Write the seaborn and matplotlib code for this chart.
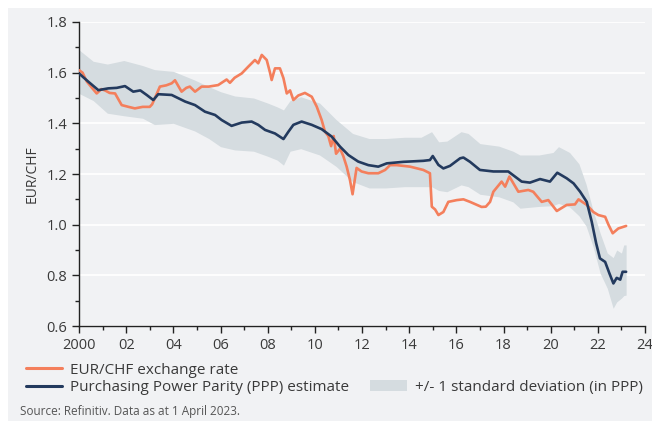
import matplotlib
matplotlib.use('Agg')
import matplotlib.pyplot as plt
from matplotlib.patches import Rectangle, Patch
from matplotlib.lines import Line2D
from matplotlib.ticker import MultipleLocator, FuncFormatter
import pandas as pd
import seaborn as sns

# EUR/CHF exchange rate (years since 2000)
fx_years = [0.0, 0.15, 0.33, 0.55, 0.75, 0.95, 1.1, 1.3, 1.53, 1.7, 1.81, 2.1, 2.37, 2.7, 3.0,
            3.1, 3.22, 3.43, 3.7, 3.93, 4.07, 4.35, 4.55, 4.7, 4.92, 5.2, 5.5, 5.9, 6.26, 6.4,
            6.6, 6.9, 7.18, 7.46, 7.6, 7.75, 7.96, 8.1, 8.17, 8.31, 8.52, 8.67, 8.81, 8.95, 9.09,
            9.3, 9.58, 9.87, 10.08, 10.29, 10.43, 10.57, 10.69, 10.8, 10.9, 11.07, 11.21, 11.35,
            11.49, 11.6, 11.77, 11.98, 12.27, 12.69, 12.98, 13.19, 13.47, 14.04, 14.6, 14.88,
            14.96, 15.1, 15.24, 15.45, 15.66, 16.02, 16.3, 16.58, 17.07, 17.25, 17.43, 17.57,
            17.92, 18.07, 18.25, 18.42, 18.63, 19.05, 19.26, 19.62, 19.9, 20.26, 20.68, 21.03,
            21.18, 21.53, 21.81, 22.02, 22.31, 22.45, 22.63, 22.87, 23.2]
fx_values = [1.61, 1.60, 1.565, 1.54, 1.518, 1.535, 1.53, 1.52, 1.518, 1.49, 1.472, 1.465, 1.459,
             1.465, 1.465, 1.475, 1.50, 1.545, 1.55, 1.558, 1.57, 1.525, 1.54, 1.545, 1.525, 1.545,
             1.545, 1.551, 1.573, 1.56, 1.58, 1.597, 1.624, 1.65, 1.637, 1.67, 1.65, 1.60, 1.571,
             1.617, 1.617, 1.578, 1.518, 1.53, 1.492, 1.51, 1.52, 1.505, 1.466, 1.413, 1.367, 1.35,
             1.31, 1.35, 1.28, 1.30, 1.27, 1.229, 1.176, 1.12, 1.224, 1.21, 1.203, 1.203, 1.216,
             1.235, 1.235, 1.229, 1.216, 1.203, 1.071, 1.06, 1.038, 1.05, 1.09, 1.097, 1.10, 1.09,
             1.07, 1.071, 1.09, 1.13, 1.17, 1.15, 1.19, 1.163, 1.13, 1.137, 1.13, 1.09, 1.097,
             1.054, 1.078, 1.08, 1.10, 1.078, 1.05, 1.038, 1.031, 1.0, 0.966, 0.985, 0.995]

# PPP estimate
ppp_years = [0.0, 0.4, 0.82, 1.24, 1.6, 1.95, 2.3, 2.6, 2.87, 3.15, 3.36, 3.93, 4.5, 4.92, 5.34,
             5.77, 6.05, 6.47, 6.9, 7.32, 7.6, 7.89, 8.31, 8.67, 8.88, 9.09, 9.44, 9.87, 10.29,
             10.71, 11.07, 11.42, 11.84, 12.27, 12.69, 13.05, 13.75, 14.6, 14.88, 15.0, 15.24,
             15.45, 15.73, 16.16, 16.3, 16.58, 17.0, 17.57, 18.2, 18.77, 19.12, 19.55, 19.97,
             20.28, 20.68, 20.97, 21.25, 21.53, 21.74, 21.93, 22.09, 22.31, 22.49, 22.66, 22.8,
             22.95, 23.05, 23.2]
ppp_values = [1.597, 1.564, 1.531, 1.538, 1.54, 1.547, 1.525, 1.53, 1.512, 1.492, 1.515, 1.512,
              1.486, 1.472, 1.446, 1.433, 1.413, 1.39, 1.403, 1.407, 1.394, 1.374, 1.36, 1.338,
              1.367, 1.394, 1.407, 1.394, 1.377, 1.348, 1.308, 1.275, 1.249, 1.235, 1.229, 1.242,
              1.248, 1.252, 1.255, 1.271, 1.236, 1.222, 1.232, 1.262, 1.265, 1.248, 1.216, 1.21,
              1.21, 1.17, 1.166, 1.18, 1.17, 1.205, 1.183, 1.163, 1.13, 1.09, 1.012, 0.926, 0.867,
              0.853, 0.808, 0.768, 0.79, 0.783, 0.814, 0.814]

# +/- 1 standard deviation band
band_years = [0.0, 0.6, 1.2, 1.9, 2.7, 3.2, 4.0, 4.9, 5.5, 6.0, 6.6, 7.4, 8.0, 8.4, 8.67, 8.95,
              9.4, 10.2, 10.9, 11.6, 12.3, 13.0, 13.8, 14.5, 14.95, 15.25, 15.6, 16.2, 16.5, 17.0,
              17.8, 18.4, 18.7, 19.5, 20.1, 20.33, 20.8, 21.2, 21.5, 21.8, 22.1, 22.4, 22.65,
              22.8, 23.0, 23.1, 23.2]
band_upper = [1.69, 1.645, 1.634, 1.648, 1.628, 1.612, 1.605, 1.571, 1.545, 1.525, 1.508, 1.50,
              1.48, 1.465, 1.453, 1.49, 1.505, 1.48, 1.415, 1.36, 1.34, 1.34, 1.345, 1.345, 1.367,
              1.327, 1.33, 1.367, 1.36, 1.32, 1.31, 1.29, 1.275, 1.275, 1.285, 1.308, 1.285, 1.24,
              1.16, 1.055, 0.966, 0.888, 0.87, 0.90, 0.888, 0.92, 0.92]
band_lower = [1.518, 1.49, 1.44, 1.43, 1.42, 1.395, 1.40, 1.37, 1.34, 1.308, 1.295, 1.29, 1.27,
              1.255, 1.235, 1.29, 1.30, 1.275, 1.23, 1.17, 1.145, 1.145, 1.15, 1.15, 1.15, 1.135,
              1.13, 1.157, 1.15, 1.12, 1.11, 1.09, 1.065, 1.072, 1.075, 1.084, 1.07, 1.035, 0.995,
              0.913, 0.808, 0.749, 0.67, 0.695, 0.71, 0.72, 0.722]

x_ticks = [0, 2, 4, 6, 8, 10, 12, 14, 16, 18, 20, 22, 24]
x_labels = ['2000', '02', '04', '06', '08', '10', '12', '14', '16', '18', '20', '22', '24']

orange = '#f47f5c'
navy = '#233a5e'
band_color = '#d5dce0'
bg = '#f1f2f4'
text_color = '#3a3a3a'

sns.set_style('white')
plt.rcParams['font.family'] = ['Open Sans', 'DejaVu Sans']

fx = pd.DataFrame({'year': fx_years, 'rate': fx_values})
ppp = pd.DataFrame({'year': ppp_years, 'rate': ppp_values})

fig = plt.figure(figsize=(6.52, 4.21), dpi=100)
fig.patch.set_facecolor('white')
fig.patches.append(Rectangle((8 / 652, 0), 1, 1 - 8 / 421, transform=fig.transFigure,
                             facecolor=bg, edgecolor='none', zorder=-10))
ax = fig.add_axes([79 / 652, 1 - 326 / 421, (645 - 79) / 652, (326 - 22) / 421])
ax.set_facecolor(bg)

ax.fill_between(band_years, band_lower, band_upper, color=band_color, linewidth=0, zorder=1)
sns.lineplot(data=fx, x='year', y='rate', color=orange, linewidth=1.9, ax=ax, zorder=3)
sns.lineplot(data=ppp, x='year', y='rate', color=navy, linewidth=1.9, ax=ax, zorder=4)

ax.set_xlim(0, 24)
ax.set_ylim(0.6, 1.8)
ax.set_xticks(x_ticks)
ax.set_xticklabels(x_labels)
ax.xaxis.set_minor_locator(MultipleLocator(1))
ax.yaxis.set_major_locator(MultipleLocator(0.2))
ax.yaxis.set_minor_locator(MultipleLocator(0.1))
ax.yaxis.set_major_formatter(FuncFormatter(lambda v, p: f'{v:.1f}'))
ax.grid(axis='y', color='white', linewidth=1.3, zorder=0)
ax.set_axisbelow(True)
for s in ['top', 'right']:
    ax.spines[s].set_visible(False)
for s in ['left', 'bottom']:
    ax.spines[s].set_color('#222222')
    ax.spines[s].set_linewidth(1.0)
ax.tick_params(which='both', direction='out', colors='#222222', labelcolor=text_color,
               labelsize=10.5, bottom=True, left=True)
ax.tick_params(which='major', length=5, width=1)
ax.tick_params(which='minor', length=3, width=1)
ax.set_xlabel('')
ax.set_ylabel('EUR/CHF', fontsize=10, color=text_color, labelpad=5)

handles = [Line2D([], [], color=orange, linewidth=2.2),
           Line2D([], [], color=navy, linewidth=2.2),
           Line2D([], [], alpha=0),
           Patch(facecolor=band_color, edgecolor='none')]
labels = ['EUR/CHF exchange rate', 'Purchasing Power Parity (PPP) estimate', '',
          '+/- 1 standard deviation (in PPP)']
fig.legend(handles, labels, loc='upper left', bbox_to_anchor=(18 / 652, 1 - 355 / 421),
           ncol=2, frameon=False, fontsize=11, labelcolor=text_color, handlelength=2.4,
           handletextpad=0.5, columnspacing=1.4, labelspacing=0.15, borderpad=0)

fig.text(20 / 652, 1 - 411 / 421, 'Source: Refinitiv. Data as at 1 April 2023.', fontsize=8.5,
         color='#555555', va='center', ha='left')

plt.savefig('out.png', dpi=100, facecolor=fig.get_facecolor())
